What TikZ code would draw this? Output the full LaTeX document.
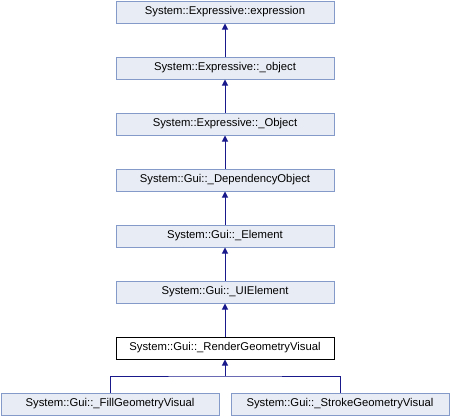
\documentclass[tikz,border=0pt]{standalone}
\usepackage{fontspec}
\setmainfont{Liberation Sans}
\usetikzlibrary{arrows.meta}
\definecolor{boxfill}{RGB}{232,236,244}
\definecolor{boxline}{RGB}{132,155,201}
\definecolor{arrowc}{RGB}{25,25,140}
\begin{document}
\begin{tikzpicture}[x=1pt,y=-1pt,
  cls/.style={draw=boxline,fill=boxfill,line width=1pt,minimum width=218pt,minimum height=22pt,inner sep=0pt,font=\fontsize{11.3}{13}\selectfont},
  cur/.style={cls,draw=black,fill=white},
  inh/.style={draw=arrowc,line width=1pt,-{Triangle[length=6pt,width=6pt]}}]
\useasboundingbox (0,0) rectangle (450,416);
\node[cls] (e1) at (225,12) {System::Expressive::expression};
\node[cls] (e2) at (225,68) {System::Expressive::\_object};
\node[cls] (e3) at (225,124) {System::Expressive::\_Object};
\node[cls] (e4) at (225,180) {System::Gui::\_DependencyObject};
\node[cls] (e5) at (225,236) {System::Gui::\_Element};
\node[cls] (e6) at (225,292) {System::Gui::\_UIElement};
\node[cur] (e7) at (225,348) {System::Gui::\_RenderGeometryVisual};
\node[cls] (f1) at (110,404) {System::Gui::\_FillGeometryVisual};
\node[cls] (f2) at (340,404) {System::Gui::\_StrokeGeometryVisual};
\draw[inh] (e2) -- (e1);
\draw[inh] (e3) -- (e2);
\draw[inh] (e4) -- (e3);
\draw[inh] (e5) -- (e4);
\draw[inh] (e6) -- (e5);
\draw[inh] (e7) -- (e6);
\coordinate (j) at (225,376);
\draw[arrowc,line width=1pt] (f1.north) |- (j) -| (f2.north);
\draw[inh] (j) -- (e7.south);
\end{tikzpicture}
\end{document}
